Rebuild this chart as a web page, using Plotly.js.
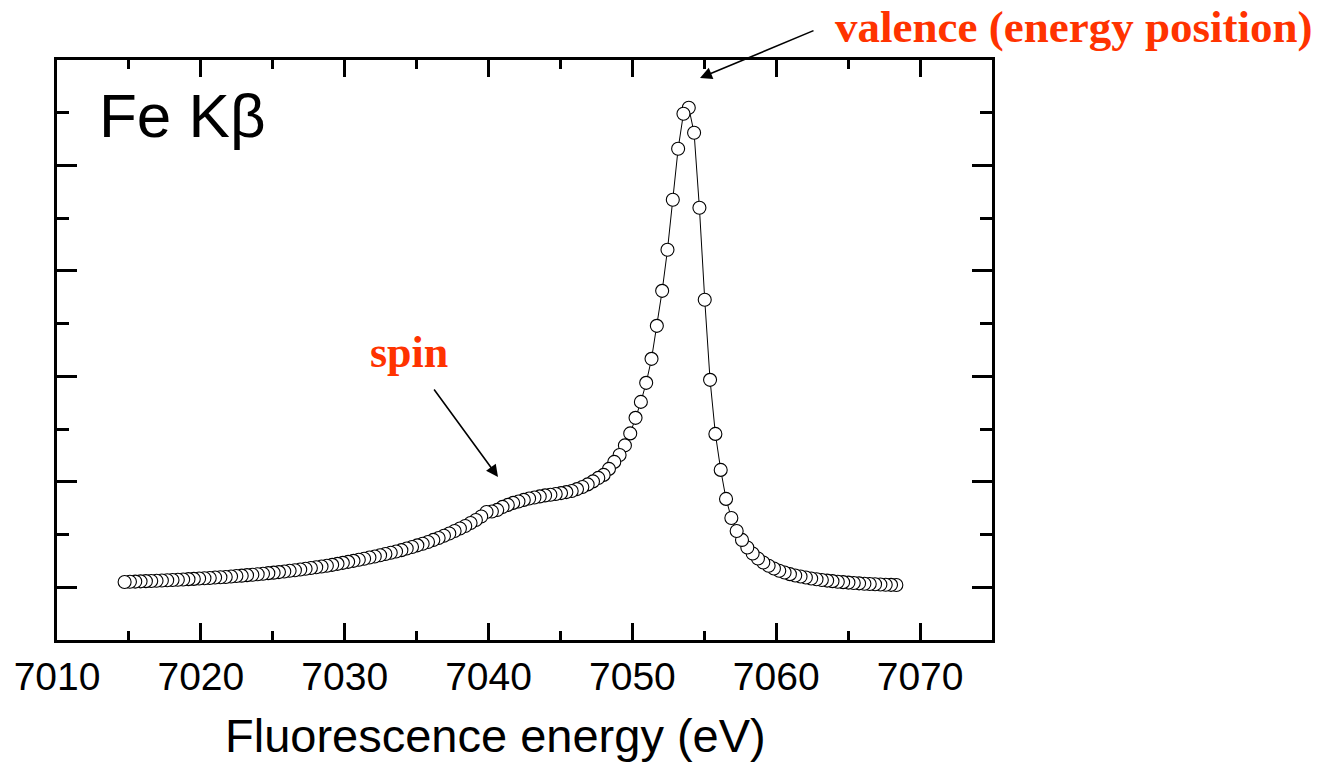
<!DOCTYPE html>
<html>
<head>
<meta charset="utf-8">
<script src="https://cdn.plot.ly/plotly-3.0.1.min.js"></script>
<style>html,body{margin:0;padding:0;background:#fff;}#chart{width:1335px;height:764px;}</style>
</head>
<body>
<div id="chart"></div>
<script>
// Fluorescence energy (eV)
const energy = [
7014.70,7015.07,7015.44,7015.81,7016.18,7016.55,7016.92,7017.29,7017.66,7018.03,
7018.40,7018.77,7019.14,7019.51,7019.88,7020.25,7020.62,7020.99,7021.36,7021.73,
7022.10,7022.47,7022.84,7023.21,7023.58,7023.95,7024.32,7024.69,7025.06,7025.43,
7025.80,7026.17,7026.54,7026.91,7027.28,7027.65,7028.02,7028.39,7028.76,7029.13,
7029.50,7029.87,7030.24,7030.61,7030.98,7031.35,7031.72,7032.09,7032.46,7032.83,
7033.20,7033.57,7033.94,7034.31,7034.68,7035.05,7035.42,7035.79,7036.16,7036.53,
7036.90,7037.27,7037.64,7038.01,7038.38,7038.75,7039.12,7039.49,7039.86,7040.23,
7040.60,7040.97,7041.34,7041.71,7042.08,7042.45,7042.82,7043.19,7043.56,7043.93,
7044.30,7044.67,7045.04,7045.41,7045.78,7046.15,7046.52,7046.89,7047.26,7047.63,
7048.00,7048.37,7048.74,7049.11,7049.48,7049.85,7050.22,7050.59,7050.96,7051.33,
7051.70,7052.07,7052.44,7052.81,7053.18,7053.55,7053.92,7054.29,7054.66,7055.03,
7055.40,7055.77,7056.14,7056.51,7056.88,7057.25,7057.62,7057.99,7058.36,7058.73,
7059.10,7059.47,7059.84,7060.21,7060.58,7060.95,7061.32,7061.69,7062.06,7062.43,
7062.80,7063.17,7063.54,7063.91,7064.28,7064.65,7065.02,7065.39,7065.76,7066.13,
7066.50,7066.87,7067.24,7067.61,7067.98,7068.35
];
// Intensity (arb. units)
const intensity = [
1.100,1.104,1.108,1.112,1.116,1.120,1.125,1.129,1.133,1.137,
1.142,1.148,1.154,1.159,1.165,1.171,1.176,1.184,1.190,1.195,
1.205,1.213,1.220,1.230,1.237,1.247,1.256,1.268,1.277,1.288,
1.300,1.313,1.324,1.338,1.351,1.366,1.380,1.395,1.408,1.425,
1.444,1.463,1.482,1.501,1.522,1.541,1.564,1.584,1.607,1.632,
1.655,1.679,1.704,1.734,1.765,1.795,1.825,1.860,1.898,1.935,
1.977,2.021,2.068,2.116,2.163,2.220,2.277,2.343,2.429,2.438,
2.467,2.524,2.562,2.600,2.628,2.657,2.685,2.704,2.723,2.742,
2.755,2.770,2.786,2.805,2.827,2.862,2.903,2.951,3.008,3.074,
3.131,3.245,3.378,3.510,3.691,3.918,4.213,4.516,4.877,5.332,
5.958,6.622,7.400,8.349,9.317,9.981,10.095,9.620,8.197,6.452,
4.934,3.909,3.226,2.676,2.315,2.068,1.898,1.755,1.641,1.546,
1.471,1.408,1.357,1.313,1.279,1.249,1.224,1.203,1.184,1.167,
1.152,1.139,1.127,1.116,1.106,1.097,1.089,1.082,1.074,1.068,
1.063,1.057,1.053,1.049,1.046,1.044
];
const xTickVals = [7010, 7020, 7030, 7040, 7050, 7060, 7070];
const xTickText = ["7010", "7020", "7030", "7040", "7050", "7060", "7070"];
const xTitle = "Fluorescence energy (eV)";
const sampleLabel = "Fe Kβ";
const spinLabel = "spin";
const valenceLabel = "valence (energy position)";

const trace = {
  x: energy.slice().reverse(),
  y: intensity.slice().reverse(),
  type: 'scatter',
  mode: 'lines+markers',
  line: {color: '#000', width: 1},
  marker: {symbol: 'circle', size: 13, color: '#fff', line: {color: '#000', width: 1.1}},
  hoverinfo: 'x+y',
  showlegend: false
};

const sansFont = 'Arial, "Liberation Sans", sans-serif';
const serifFont = '"Times New Roman", "Liberation Serif", serif';
const red = '#ff3300';

const layout = {
  width: 1335, height: 764,
  margin: {l: 57, r: 343, t: 60, b: 124, pad: 0},
  paper_bgcolor: '#fff', plot_bgcolor: '#fff',
  showlegend: false,
  xaxis: {
    range: [7010, 7075],
    tickmode: 'array', tickvals: xTickVals, ticktext: xTickText,
    ticks: 'inside', ticklen: 17, tickwidth: 3, tickcolor: '#000',
    minor: {dtick: 5, tick0: 7005, ticks: 'inside', ticklen: 9, tickwidth: 3, tickcolor: '#000', showgrid: false},
    showline: true, linewidth: 3, linecolor: '#000', mirror: 'allticks',
    showgrid: false, zeroline: false,
    tickfont: {family: sansFont, size: 39, color: '#000'}
  },
  yaxis: {
    range: [0, 11],
    tick0: 1, dtick: 2,
    ticks: 'inside', ticklen: 20, tickwidth: 3, tickcolor: '#000',
    minor: {dtick: 1, tick0: 0, ticks: 'inside', ticklen: 12, tickwidth: 3, tickcolor: '#000', showgrid: false},
    showticklabels: false,
    showline: true, linewidth: 3, linecolor: '#000', mirror: 'allticks',
    showgrid: false, zeroline: false
  },
  annotations: [
    {xref: 'paper', yref: 'paper', x: (495 - 57) / 935, y: (640 - 735) / 580, xanchor: 'center', yanchor: 'middle',
     text: xTitle, showarrow: false, font: {family: sansFont, size: 47, color: '#000'}},
    {xref: 'paper', yref: 'paper', x: 0.043, y: (640 - 116) / 580, xanchor: 'left', yanchor: 'middle',
     text: sampleLabel, showarrow: false, font: {family: sansFont, size: 62, color: '#000'}},
    {xref: 'paper', yref: 'paper', x: (409 - 57) / 935, y: (640 - 352) / 580, xanchor: 'center', yanchor: 'middle',
     text: '<b>' + spinLabel + '</b>', showarrow: false, font: {family: serifFont, size: 44, color: red}},
    {xref: 'paper', yref: 'paper', x: (1073 - 57) / 935, y: (640 - 27) / 580, xanchor: 'center', yanchor: 'middle',
     text: '<b>' + valenceLabel + '</b>', showarrow: false, font: {family: serifFont, size: 45, color: red}},
    {xref: 'paper', yref: 'paper', x: (498 - 57) / 935, y: (640 - 477) / 580, axref: 'pixel', ayref: 'pixel',
     ax: -65, ay: -89, text: '', showarrow: true, arrowhead: 2, arrowsize: 1.5, arrowwidth: 1.6, arrowcolor: '#000'},
    {xref: 'paper', yref: 'paper', x: (700 - 57) / 935, y: (640 - 78) / 580, axref: 'pixel', ayref: 'pixel',
     ax: 115, ay: -48, text: '', showarrow: true, arrowhead: 2, arrowsize: 1.5, arrowwidth: 1.6, arrowcolor: '#000'}
  ]
};

Plotly.newPlot('chart', [trace], layout, {displayModeBar: false, staticPlot: true});
</script>
</body>
</html>
